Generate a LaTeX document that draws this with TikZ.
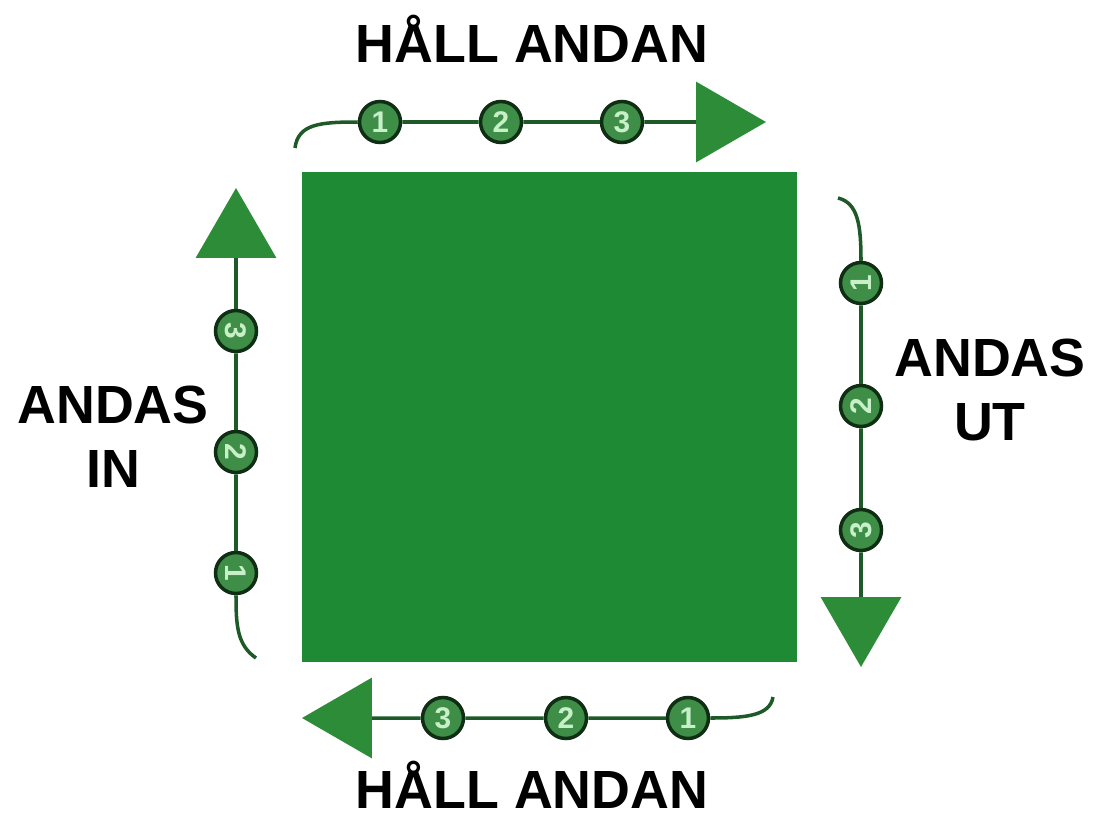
\documentclass[tikz,border=0pt]{standalone}
\usepackage{fontspec}
\setmainfont{Liberation Sans}
\usetikzlibrary{arrows.meta}
\definecolor{boxgreen}{RGB}{31,138,52}
\definecolor{headgreen}{RGB}{44,140,56}
\definecolor{linegreen}{RGB}{30,90,40}
\definecolor{rimgreen}{RGB}{16,46,20}
\definecolor{dotgreen}{RGB}{62,142,72}
\definecolor{digitgreen}{RGB}{200,240,200}
\tikzset{
  countdot/.style={circle, draw=rimgreen, line width=2pt, fill=dotgreen,
    inner sep=0pt, minimum size=0.82cm, text=digitgreen,
    font=\fontsize{17}{17}\selectfont\bfseries},
  breath/.style={draw=linegreen, line width=2pt,
    -{Triangle[length=1.4cm, width=1.6cm, fill=headgreen, color=headgreen]}},
  wordlabel/.style={font=\fontsize{30.6}{36.3}\selectfont\bfseries, align=center}
}
\begin{document}
\begin{tikzpicture}[x=0.02cm, y=-0.02cm]
    \useasboundingbox (0,0) rectangle (1107,819);
    % The square
    \node[fill=boxgreen, minimum width=9.9cm, minimum height=9.8cm, inner sep=0pt] (sq) at (549.5,417) {};
    % Top: hold
    \coordinate (t0) at (295,148);
    \coordinate (tend) at (766,122);
    \node[countdot] (t1) at (380,122) {1};
    \node[countdot] (t2) at (501,122) {2};
    \node[countdot] (t3) at (622,122) {3};
    \draw[breath] (t0) .. controls (298,124) and (320,122) .. (t1) -- (t2) -- (t3) -- (tend);
    % Right: breathe out
    \coordinate (r0) at (838,198);
    \coordinate (rend) at (861,667);
    \node[countdot, rotate=90] (r1) at (861,283) {1};
    \node[countdot, rotate=90] (r2) at (861,406) {2};
    \node[countdot, rotate=90] (r3) at (861,530) {3};
    \draw[breath] (r0) .. controls (858,203) and (861,225) .. (r1) -- (r2) -- (r3) -- (rend);
    % Bottom: hold
    \coordinate (b0) at (773,697);
    \coordinate (bend) at (302,718);
    \node[countdot] (b1) at (688,718) {1};
    \node[countdot] (b2) at (566,718) {2};
    \node[countdot] (b3) at (443,718) {3};
    \draw[breath] (b0) .. controls (770,716) and (745,718) .. (b1) -- (b2) -- (b3) -- (bend);
    % Left: breathe in
    \coordinate (l0) at (256,658);
    \coordinate (lend) at (236,188);
    \node[countdot, rotate=-90] (l1) at (236,573) {1};
    \node[countdot, rotate=-90] (l2) at (236,452) {2};
    \node[countdot, rotate=-90] (l3) at (236,331) {3};
    \draw[breath] (l0) .. controls (237,645) and (236,625) .. (l1) -- (l2) -- (l3) -- (lend);
    % Labels
    \node[wordlabel, anchor=base] (holdtop) at (532,62) {HÅLL ANDAN};
    \node[wordlabel, anchor=base] (holdbot) at (532,808) {HÅLL ANDAN};
    \node[wordlabel] (inhale) at (113,437) {ANDAS\\IN};
    \node[wordlabel] (exhale) at (990,390) {ANDAS\\UT};
\end{tikzpicture}
\end{document}
